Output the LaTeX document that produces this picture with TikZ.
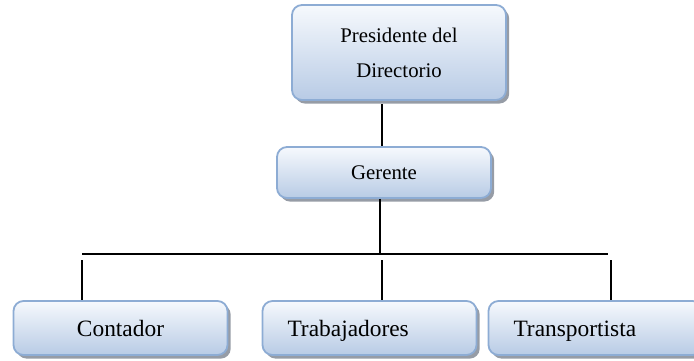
\documentclass[tikz,border=0pt]{standalone}
\usepackage{fontspec}
\setmainfont{Liberation Serif}
\usetikzlibrary{shadows}
\definecolor{boxline}{RGB}{141,172,212}
\definecolor{boxtop}{RGB}{246,249,253}
\definecolor{boxbot}{RGB}{184,203,229}
\definecolor{boxshadow}{RGB}{150,156,166}

\begin{document}
\begin{tikzpicture}[x=0.5pt, y=-0.5pt,
    cargo/.style={draw=boxline, line width=0.9pt, rounded corners=5pt,
      top color=boxtop, bottom color=boxbot, minimum width=107pt,
      drop shadow={shadow xshift=1.6pt, shadow yshift=-1.8pt, fill=boxshadow, opacity=1}},
    cargobajo/.style={cargo, minimum height=27pt, text height=9.5pt, text depth=1.5pt,
      font=\fontsize{11.7}{14}\selectfont},
    cargoizq/.style={cargobajo, text width=82pt, inner xsep=12.5pt, align=left},
    enlace/.style={line width=1pt}]
  \useasboundingbox (0,0) rectangle (694,360);

  \node[cargo, minimum height=47.5pt, align=center, font=\fontsize{10.4}{17.5}\selectfont]
    (pres) at (399,52.5) {Presidente del\\Directorio};
  \node[cargo, minimum height=25.5pt, font=\fontsize{10.4}{12}\selectfont]
    (ger) at (384,172.5) {Gerente};

  \node[cargobajo] (cont) at (120.5,328) {Contador};
  \node[cargoizq] (trab) at (369.5,328) {Trabajadores};
  \node[cargoizq] (trans) at (595.5,328) {Transportista};

  % lineas de mando
  \coordinate (sup) at (382,104);
  \coordinate (hub) at (380,254);
  \coordinate (busL) at (82,254);
  \coordinate (busR) at (608,254);
  \draw[enlace] (sup) -- (sup |- ger.north);
  \draw[enlace] (hub |- ger.south) -- (hub);
  \draw[enlace] (busL) -- (busR);

  \foreach \x/\n in {82/cont, 382/trab, 611/trans}
    \draw[enlace] (\x,260) -- ({\x,260} |- \n.north);
\end{tikzpicture}
\end{document}
